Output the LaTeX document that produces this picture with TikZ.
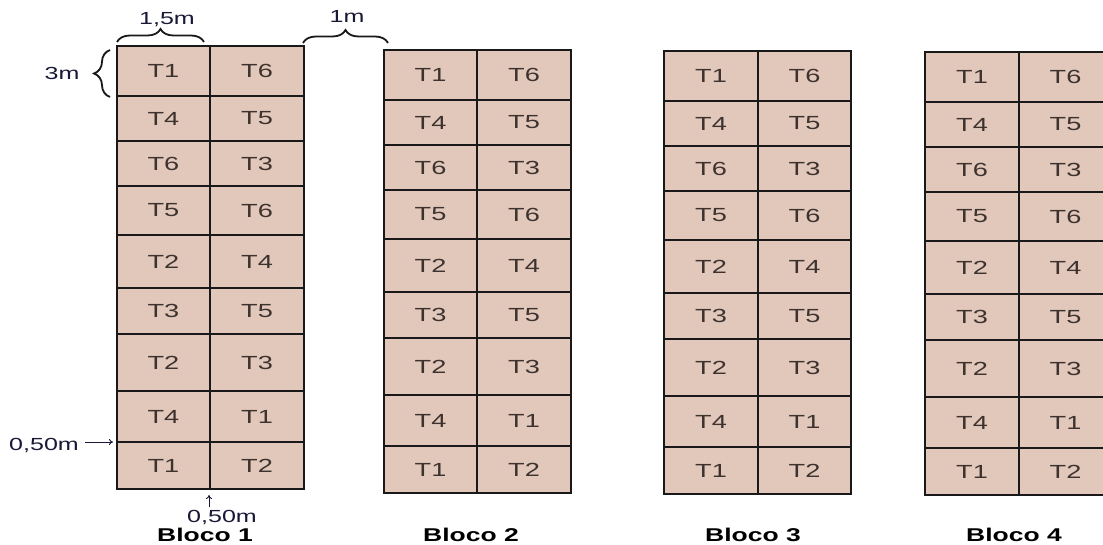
\documentclass[tikz,border=0pt]{standalone}
\usepackage{fontspec}
\setmainfont{Liberation Sans}
\usepackage{graphicx}
\usetikzlibrary{decorations.pathreplacing,arrows.meta}
\definecolor{plotfill}{RGB}{225,200,187}
\definecolor{tcol}{RGB}{62,50,46}
\definecolor{dimcol}{RGB}{25,25,55}
\newcommand\hwide[1]{\scalebox{1.43}[1]{#1}}
\tikzset{
 cell/.style={draw=black!90, line width=1.3pt, fill=plotfill, inner sep=0pt, outer sep=0pt, text=tcol, font=\fontsize{19}{19}\selectfont},
 dimlabel/.style={text=dimcol, inner sep=0pt, font=\fontsize{17.5}{17.5}\selectfont},
 blocolabel/.style={text=black, inner sep=0pt, font=\fontsize{18.5}{18.5}\selectfont\bfseries},
 bracestyle/.style={decorate, decoration={brace, amplitude=#1}, line width=1.8pt, draw=black!90},
 dimarrow/.style={-{To[length=4pt,width=6pt]}, line width=0.9pt, draw=dimcol},
}
\begin{document}
\begin{tikzpicture}[x=1pt,y=-1pt]
\clip (0,0) rectangle (1103,545);
\fill[white] (0,0) rectangle (1103,545);
\foreach \b/\xl/\xm/\xr/\yt in {1/117/210/304/46, 2/384/477/571/50, 3/664/758/851/51, 4/925/1019/1112/52}{
  \foreach \r/\ya/\yb/\la/\lb in {1/0/50/T1/T6, 2/50/95/T4/T5, 3/95/140/T6/T3, 4/140/189/T5/T6, 5/189/242/T2/T4, 6/242/288/T3/T5, 7/288/345/T2/T3, 8/345/396/T4/T1, 9/396/443/T1/T2}{
    \node[cell, minimum width={(\xm-\xl)*1pt}, minimum height={(\yb-\ya)*1pt}] (b\b-r\r-a) at ({(\xl+\xm)/2},{\yt+(\ya+\yb)/2}) {\hwide{\la}};
    \node[cell, minimum width={(\xr-\xm)*1pt}, minimum height={(\yb-\ya)*1pt}] (b\b-r\r-b) at ({(\xm+\xr)/2},{\yt+(\ya+\yb)/2}) {\hwide{\lb}};
  }
}
% braces
\coordinate (br1a) at (117,42);
\coordinate (br1b) at (204,42);
\coordinate (br2a) at (303,43);
\coordinate (br2b) at (388,43);
\coordinate (br3a) at (110,97);
\coordinate (br3b) at (110,50);
\draw[bracestyle=13pt] (br1a) -- (br1b);
\draw[bracestyle=13pt] (br2a) -- (br2b);
\draw[bracestyle=16pt] (br3a) -- (br3b);
% dimension labels
\node[dimlabel, anchor=base] (d15) at (167,25) {\hwide{1,5m}};
\node[dimlabel, anchor=base] (d1) at (347,23) {\hwide{1m}};
\node[dimlabel, anchor=base] (d3) at (62,80) {\hwide{3m}};
\node[dimlabel, anchor=base] (d050a) at (44,450) {\hwide{0,50m}};
\node[dimlabel, anchor=base] (d050b) at (222,522) {\hwide{0,50m}};
% arrows
\coordinate (a1s) at (79,442);
\draw[dimarrow, shorten <=6pt, shorten >=4pt] (a1s) -- (b1-r9-a.north west);
\coordinate (a2s) at (209,507);
\draw[dimarrow, shorten >=6pt] (a2s) -- (a2s |- b1-r9-a.south east);
% block labels
\node[blocolabel] (bl1) at (205,535) {\hwide{Bloco 1}};
\node[blocolabel] (bl2) at (471,535) {\hwide{Bloco 2}};
\node[blocolabel] (bl3) at (753,535) {\hwide{Bloco 3}};
\node[blocolabel] (bl4) at (1014,535) {\hwide{Bloco 4}};
\end{tikzpicture}
\end{document}
